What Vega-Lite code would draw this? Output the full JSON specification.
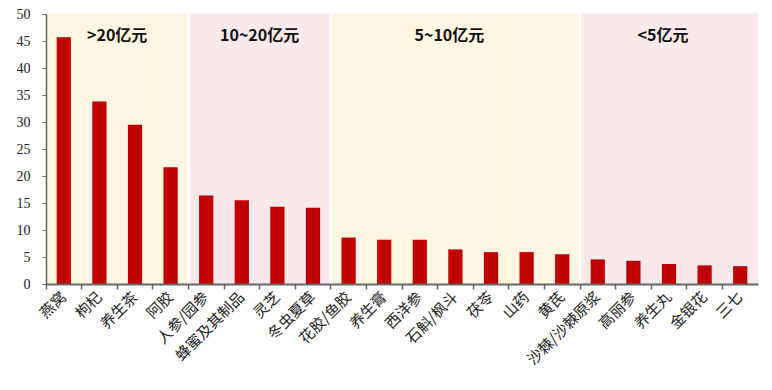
{
  "$schema": "https://vega.github.io/schema/vega-lite/v6.json",
  "width": 712,
  "height": 270,
  "autosize": "none",
  "padding": {"left": 46, "top": 14, "right": 14, "bottom": 106},
  "background": "white",
  "config": {"view": {"stroke": null}},
  "data": {"values": [
    {"name": "燕窝", "value": 45.7, "bg": "y"},
    {"name": "枸杞", "value": 33.8, "bg": "y"},
    {"name": "养生茶", "value": 29.5, "bg": "y"},
    {"name": "阿胶", "value": 21.6, "bg": "y"},
    {"name": "人参/园参", "value": 16.4, "bg": "p"},
    {"name": "蜂蜜及其制品", "value": 15.5, "bg": "p"},
    {"name": "灵芝", "value": 14.3, "bg": "p"},
    {"name": "冬虫夏草", "value": 14.1, "bg": "p"},
    {"name": "花胶/鱼胶", "value": 8.6, "bg": "y"},
    {"name": "养生膏", "value": 8.2, "bg": "y"},
    {"name": "西洋参", "value": 8.2, "bg": "y"},
    {"name": "石斛/枫斗", "value": 6.4, "bg": "y"},
    {"name": "茯苓", "value": 5.9, "bg": "y"},
    {"name": "山药", "value": 5.9, "bg": "y"},
    {"name": "黄芪", "value": 5.5, "bg": "y"},
    {"name": "沙棘/沙棘原浆", "value": 4.55, "bg": "p"},
    {"name": "高丽参", "value": 4.3, "bg": "p"},
    {"name": "养生丸", "value": 3.7, "bg": "p"},
    {"name": "金银花", "value": 3.45, "bg": "p"},
    {"name": "三七", "value": 3.3, "bg": "p"}
  ]},
  "resolve": {"axis": {"x": "independent", "y": "independent"}},
  "layer": [
    {
      "mark": {"type": "bar", "width": {"band": 1}, "strokeWidth": 1},
      "encoding": {
        "x": {"field": "name", "type": "nominal", "sort": null,
          "scale": {"domain": ["燕窝","枸杞","养生茶","阿胶","人参/园参","蜂蜜及其制品","灵芝","冬虫夏草","花胶/鱼胶","养生膏","西洋参","石斛/枫斗","茯苓","山药","黄芪","沙棘/沙棘原浆","高丽参","养生丸","金银花","三七"], "paddingInner": 0, "paddingOuter": 0},
          "axis": {"orient": "bottom", "title": null, "labels": false, "ticks": true, "bandPosition": 0, "tickSize": 5, "tickColor": "#666666", "tickWidth": 1.5, "domain": true, "domainColor": "#666666", "domainWidth": 2, "zindex": 1, "grid": false}},
        "y": {"datum": 50, "type": "quantitative",
          "scale": {"domain": [0, 50], "nice": false}, "axis": null},
        "y2": {"datum": 0},
        "color": {"field": "bg", "type": "nominal", "scale": {"domain": ["y", "p"], "range": ["#FEF5E2", "#FAE9EA"]}, "legend": null},
        "stroke": {"field": "bg", "type": "nominal", "scale": {"domain": ["y", "p"], "range": ["#FEF5E2", "#FAE9EA"]}, "legend": null}
      }
    },
    {
      "transform": [{"filter": {"field": "name", "oneOf": ["人参/园参", "花胶/鱼胶", "沙棘/沙棘原浆"]}}],
      "mark": {"type": "rule", "color": "white", "strokeWidth": 2.5},
      "encoding": {
        "x": {"field": "name", "type": "nominal", "bandPosition": 0, "axis": null},
        "y": {"datum": 50, "type": "quantitative", "axis": null},
        "y2": {"datum": 0}
      }
    },
    {
      "mark": {"type": "bar", "width": {"band": 0.4}, "color": "#C00000"},
      "encoding": {
        "x": {"field": "name", "type": "nominal", "sort": null,
          "axis": {"orient": "bottom", "title": null, "ticks": false, "domain": false, "labelAngle": -45, "labelAlign": "right", "labelBaseline": "middle", "labelFont": "Noto Sans CJK SC", "labelFontSize": 15, "labelColor": "#222222", "labelPadding": 10, "labelOverlap": false, "labelLimit": 200, "grid": false}},
        "y": {"field": "value", "type": "quantitative",
          "axis": {"orient": "left", "title": null, "values": [0,5,10,15,20,25,30,35,40,45,50], "labelOverlap": false, "labelFlush": false, "grid": false, "domainColor": "#666666", "domainWidth": 1.5, "tickColor": "#666666", "tickSize": 4, "labelPadding": 12, "labelFont": "Liberation Serif", "labelFontSize": 14, "labelColor": "#222222", "zindex": 1}}
      }
    },
    {
      "data": {"values": [
        {"label": ">20亿元", "at": "枸杞"},
        {"label": "10~20亿元", "at": "蜂蜜及其制品"}
      ]},
      "mark": {"type": "text", "font": "Noto Sans CJK SC", "fontWeight": "bold", "fontSize": 16, "color": "#111111", "baseline": "middle"},
      "encoding": {
        "x": {"field": "at", "type": "nominal", "bandPosition": 1, "axis": null},
        "y": {"datum": 45.9, "type": "quantitative", "axis": null},
        "text": {"field": "label"}
      }
    },
    {
      "data": {"values": [
        {"label": "5~10亿元", "at": "石斛/枫斗"},
        {"label": "<5亿元", "at": "养生丸"}
      ]},
      "mark": {"type": "text", "font": "Noto Sans CJK SC", "fontWeight": "bold", "fontSize": 16, "color": "#111111", "baseline": "middle", "dx": -6},
      "encoding": {
        "x": {"field": "at", "type": "nominal", "bandPosition": 0.5, "axis": null},
        "y": {"datum": 45.9, "type": "quantitative", "axis": null},
        "text": {"field": "label"}
      }
    }
  ]
}
